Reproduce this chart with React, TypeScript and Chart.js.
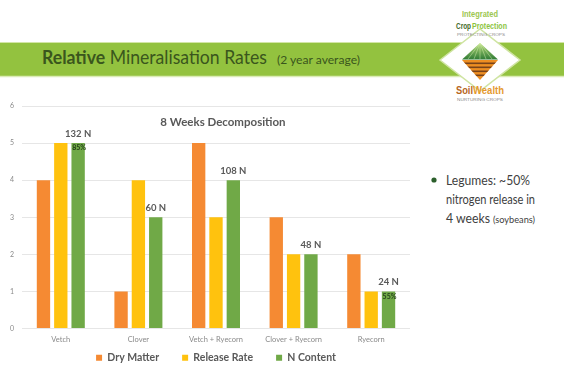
import React, { useEffect, useRef } from "react";
import { Chart, registerables } from "chart.js";

Chart.register(...registerables);

const categories = ["Vetch", "Clover", "Vetch + Ryecorn", "Clover + Ryecorn", "Ryecorn"];
const seriesNames = ["Dry Matter", "Release Rate", "N Content"];
const dryMatter = [4, 1, 5, 3, 2];
const releaseRate = [5, 4, 3, 2, 1];
const nContent = [5, 3, 4, 2, 1];
const nLabels = ["132 N", "60 N", "108 N", "48 N", "24 N"];
const pctLabels = ["85%", "", "", "", "55%"];
const yTicks = [0, 1, 2, 3, 4, 5, 6];
const chartTitle = "8 Weeks Decomposition";

const COLORS = ["#F58A33", "#FFC20E", "#70A947"];
const FONT = "Lato, 'Open Sans', sans-serif";

const labelPlugin = {
  id: "barLabels",
  afterLayout(chart: any) {
    // centre the legend under the plot area
    const lg = chart.legend;
    const ca = chart.chartArea;
    if (lg && ca) {
      const shift = (ca.left + ca.right) / 2 - (lg.left + lg.right) / 2;
      lg.left += shift;
      lg.right += shift;
    }
  },
  afterDatasetsDraw(chart: any) {
    const ctx = chart.ctx;
    const meta = chart.getDatasetMeta(2);
    ctx.save();
    ctx.textAlign = "center";
    ctx.textBaseline = "middle";
    meta.data.forEach((bar: any, i: number) => {
      ctx.font = `bold 9.5px ${FONT}`;
      ctx.fillStyle = "#595959";
      ctx.fillText(nLabels[i], bar.x, bar.y - 9);
      if (pctLabels[i]) {
        ctx.font = `bold 7px ${FONT}`;
        ctx.fillStyle = "#24401a";
        ctx.fillText(pctLabels[i], bar.x + 1, bar.y + 5);
      }
    });
    const ca = chart.chartArea;
    ctx.font = `bold 11.5px ${FONT}`;
    ctx.fillStyle = "#595959";
    ctx.fillText(chartTitle, ca.left + ca.width * 0.518, ca.top + 16);
    ctx.restore();
  },
};

function BarChart() {
  const ref = useRef<HTMLCanvasElement>(null);
  useEffect(() => {
    if (!ref.current) return;
    const chart = new Chart(ref.current, {
      type: "bar",
      data: {
        labels: categories,
        datasets: [dryMatter, releaseRate, nContent].map((d, i) => ({
          label: seriesNames[i],
          data: d,
          backgroundColor: COLORS[i],
          borderWidth: 0,
          categoryPercentage: 0.67,
          barPercentage: 0.77,
        })),
      },
      options: {
        responsive: false,
        animation: false,
        layout: { padding: { left: 0, right: 22, top: 16, bottom: 0 } },
        plugins: {
          tooltip: { enabled: false },
          title: { display: false },
          legend: {
            position: "bottom",
            labels: {
              font: { family: FONT, size: 10.5, weight: "bold" },
              color: "#595959",
              boxWidth: 6,
              boxHeight: 6,
              padding: 2,
              generateLabels: (c: any) => {
                const base = Chart.defaults.plugins.legend.labels.generateLabels(c);
                return base.map((l: any, i: number) => ({
                  ...l,
                  text: i < base.length - 1 ? l.text + "\u2002\u2002\u2002\u2002" : l.text,
                }));
              },
            },
          },
        },
        scales: {
          x: {
            grid: { display: false, drawTicks: false },
            border: { display: false },
            ticks: { font: { family: FONT, size: 7.5 }, color: "#8a8a8a", padding: 6.5, maxRotation: 0 },
          },
          y: {
            min: 0,
            max: 6,
            afterBuildTicks: (s: any) => {
              s.ticks = yTicks.map((v) => ({ value: v }));
            },
            afterFit: (s: any) => {
              s.width = 22;
            },
            ticks: { font: { family: FONT, size: 7 }, color: "#8a8a8a", padding: 8 },
            grid: { color: "#e6e6e6", drawTicks: false },
            border: { display: false },
          },
        },
      },
      plugins: [labelPlugin],
    } as any);
    return () => chart.destroy();
  }, []);
  return (
    <canvas
      ref={ref}
      width={432}
      height={283}
      style={{ position: "absolute", left: 0, top: 90, width: 432, height: 283 }}
    />
  );
}

function Overlay() {
  return (
    <svg width={564} height={369} style={{ position: "absolute", left: 0, top: 0 }}>
      <defs>
        <linearGradient id="coneG" x1="0" y1="0" x2="0" y2="1">
          <stop offset="0" stopColor="#b7dd7a" />
          <stop offset="1" stopColor="#2f7a35" />
        </linearGradient>
        <clipPath id="coneB">
          <polygon points="462,60 498,60 480,80" />
        </clipPath>
      </defs>
      {/* banner */}
      <rect x={0} y={43} width={564} height={33} fill="#93C23F" />
      <line x1={0} x2={564} y1={42.5} y2={42.5} stroke="#d3e6a6" strokeWidth={1} />
      <line x1={0} x2={564} y1={76.5} y2={76.5} stroke="#dbebb6" strokeWidth={1.5} />
      <text x={42} y={63.5} fontFamily={FONT} fontSize={19} fill="#3a561d" textLength={225} lengthAdjust="spacingAndGlyphs">
        <tspan fontWeight="bold">Relative</tspan>
        <tspan> Mineralisation Rates</tspan>
      </text>
      <text x={277} y={63.5} fontFamily={FONT} fontSize={12} fill="#3a561d" textLength={83} lengthAdjust="spacingAndGlyphs">
        (2 year average)
      </text>
      {/* logo */}
      <polygon points="440,60 480,29 520,60 480,91" fill="#ffffff" stroke="#cfe4a2" strokeWidth={1.5} />
      <polygon points="480,43 462,59.5 498,59.5" fill="url(#coneG)" />
      <g stroke="#d6efb0" strokeWidth={0.6} opacity={0.8}>
        <line x1={480} y1={43} x2={468} y2={59} />
        <line x1={480} y1={43} x2={474} y2={59} />
        <line x1={480} y1={43} x2={480} y2={59} />
        <line x1={480} y1={43} x2={486} y2={59} />
        <line x1={480} y1={43} x2={492} y2={59} />
      </g>
      <g clipPath="url(#coneB)">
        <rect x={460} y={60} width={40} height={22} fill="#ee8e22" />
        <rect x={460} y={62.5} width={40} height={1.6} fill="#7a4318" />
        <rect x={460} y={66.5} width={40} height={1.6} fill="#7a4318" />
        <rect x={460} y={70.5} width={40} height={1.6} fill="#7a4318" />
        <rect x={460} y={74.5} width={40} height={1.6} fill="#7a4318" />
      </g>
      <text x={462} y={17} fontFamily="'Liberation Sans', sans-serif" fontWeight="bold" fontSize={8.5} fill="#9cc64f" textLength={36} lengthAdjust="spacingAndGlyphs">
        Integrated
      </text>
      <text x={456} y={28.5} fontFamily="'Liberation Sans', sans-serif" fontWeight="bold" fontSize={8.5} fill="#3f6b2a" textLength={15} lengthAdjust="spacingAndGlyphs">
        Crop
      </text>
      <text x={472} y={28.5} fontFamily="'Liberation Sans', sans-serif" fontWeight="bold" fontSize={8.5} fill="#8cc43f" textLength={35} lengthAdjust="spacingAndGlyphs">
        Protection
      </text>
      <text x={457} y={36} fontFamily="'Liberation Sans', sans-serif" fontSize={3.5} fill="#8a8a8a" textLength={48} lengthAdjust="spacingAndGlyphs">
        PROTECTING CROPS
      </text>
      <text x={456} y={94} fontFamily="'Liberation Sans', sans-serif" fontWeight="bold" fontSize={11} fill="#b7661d" textLength={17} lengthAdjust="spacingAndGlyphs">
        Soil
      </text>
      <text x={473} y={94} fontFamily="'Liberation Sans', sans-serif" fontWeight="bold" fontSize={11} fill="#e59a2e" textLength={31} lengthAdjust="spacingAndGlyphs">
        Wealth
      </text>
      <text x={457} y={101} fontFamily="'Liberation Sans', sans-serif" fontSize={3.5} fill="#8a8a8a" textLength={46} lengthAdjust="spacingAndGlyphs">
        NURTURING CROPS
      </text>
      {/* side note */}
      <circle cx={434} cy={180} r={2.6} fill="#2c5f2c" />
      <text x={446} y={185} fontFamily={FONT} fontSize={14} fill="#404040" textLength={84} lengthAdjust="spacingAndGlyphs">
        Legumes: ~50%
      </text>
      <text x={446} y={204} fontFamily={FONT} fontSize={14} fill="#404040" textLength={89} lengthAdjust="spacingAndGlyphs">
        nitrogen release in
      </text>
      <text x={446} y={223} fontFamily={FONT} fontSize={14} fill="#404040" textLength={44} lengthAdjust="spacingAndGlyphs">
        4 weeks
      </text>
      <text x={493} y={223} fontFamily={FONT} fontSize={10} fill="#404040" textLength={42} lengthAdjust="spacingAndGlyphs">
        (soybeans)
      </text>
    </svg>
  );
}

export default function App() {
  return (
    <div
      style={{
        position: "fixed",
        left: 0,
        top: 0,
        width: 564,
        height: 369,
        overflow: "hidden",
        background: "#ffffff",
      }}
    >
      <Overlay />
      <BarChart />
    </div>
  );
}
